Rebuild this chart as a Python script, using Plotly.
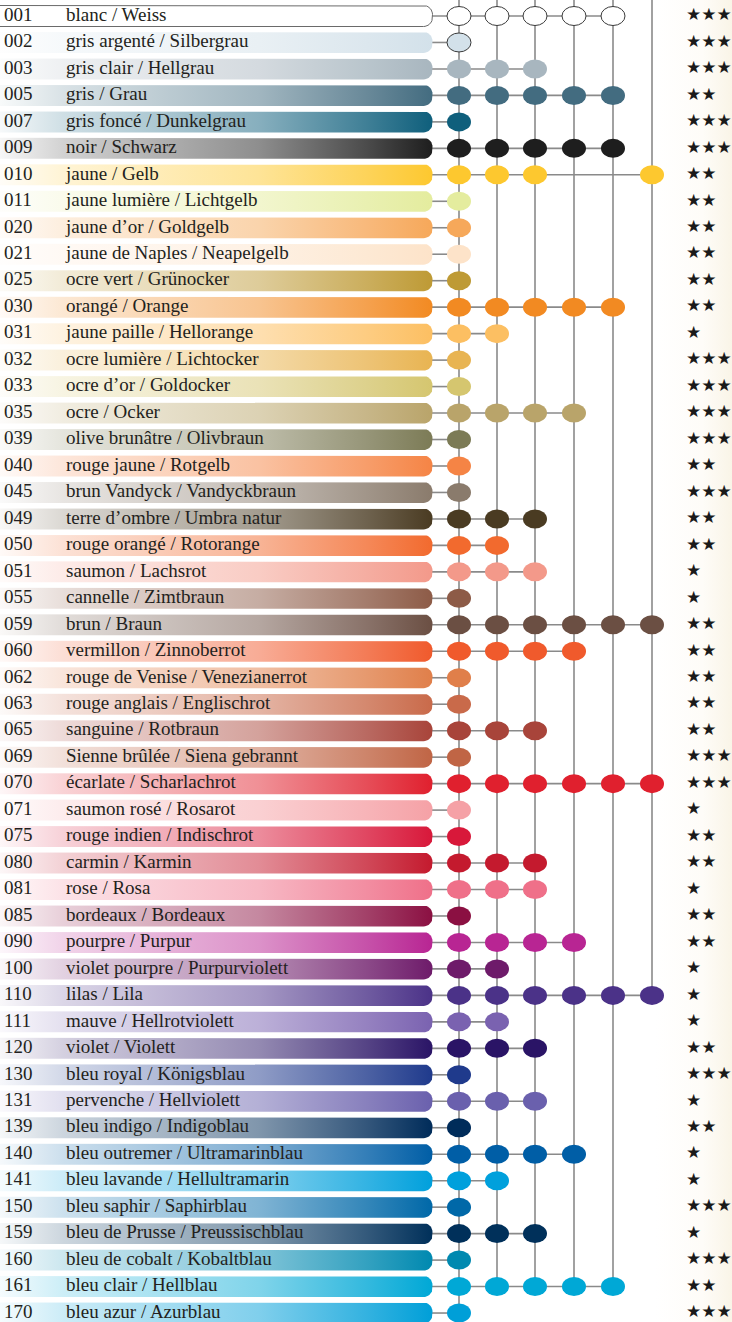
import numpy as np
import plotly.graph_objects as go

# ---------------- data ----------------
codes = ["001", "002", "003", "005", "007", "009", "010", "011", "020", "021",
         "025", "030", "031", "032", "033", "035", "039", "040", "045", "049",
         "050", "051", "055", "059", "060", "062", "063", "065", "069", "070",
         "071", "075", "080", "081", "085", "090", "100", "110", "111", "120",
         "130", "131", "139", "140", "141", "150", "159", "160", "161", "170"]

names = ["blanc / Weiss", "gris argenté / Silbergrau", "gris clair / Hellgrau",
         "gris / Grau", "gris foncé / Dunkelgrau", "noir / Schwarz", "jaune / Gelb",
         "jaune lumière / Lichtgelb", "jaune d’or / Goldgelb",
         "jaune de Naples / Neapelgelb", "ocre vert / Grünocker", "orangé / Orange",
         "jaune paille / Hellorange", "ocre lumière / Lichtocker",
         "ocre d’or / Goldocker", "ocre / Ocker", "olive brunâtre / Olivbraun",
         "rouge jaune / Rotgelb", "brun Vandyck / Vandyckbraun",
         "terre d’ombre / Umbra natur", "rouge orangé / Rotorange",
         "saumon / Lachsrot", "cannelle / Zimtbraun", "brun / Braun",
         "vermillon / Zinnoberrot", "rouge de Venise / Venezianerrot",
         "rouge anglais / Englischrot", "sanguine / Rotbraun",
         "Sienne brûlée / Siena gebrannt", "écarlate / Scharlachrot",
         "saumon rosé / Rosarot", "rouge indien / Indischrot", "carmin / Karmin",
         "rose / Rosa", "bordeaux / Bordeaux", "pourpre / Purpur",
         "violet pourpre / Purpurviolett", "lilas / Lila", "mauve / Hellrotviolett",
         "violet / Violett", "bleu royal / Königsblau", "pervenche / Hellviolett",
         "bleu indigo / Indigoblau", "bleu outremer / Ultramarinblau",
         "bleu lavande / Hellultramarin", "bleu saphir / Saphirblau",
         "bleu de Prusse / Preussischblau", "bleu de cobalt / Kobaltblau",
         "bleu clair / Hellblau", "bleu azur / Azurblau"]

colors = ["#ffffff", "#d3e1ea", "#a8b6bf", "#436c80", "#0f5f7c", "#1e1e1e",
          "#fdc82f", "#e4ec9e", "#f6a85a", "#fde3c9", "#be9a35", "#f28a22",
          "#fcbf62", "#e8b452", "#d5c66f", "#b9a46a", "#7c7b56", "#f58445",
          "#8a7b6c", "#4a3b22", "#f26a2e", "#f3998a", "#8d5b47", "#6b4f43",
          "#f05a2c", "#e07f4a", "#c96a4a", "#a8443a", "#c06545", "#e0202e",
          "#f5a1a6", "#d8183a", "#c41a2e", "#ef7089", "#8b1042", "#b82593",
          "#6e1b6a", "#4b3288", "#7a62b0", "#2a1466", "#1f3a8c", "#6a60ad",
          "#002c5a", "#005ea6", "#00a0dc", "#0068a8", "#00305a", "#0089b0",
          "#00a8d6", "#009fd8"]

stars = [3, 3, 3, 2, 3, 3, 2, 2, 2, 2,
         2, 2, 1, 3, 3, 3, 3, 2, 3, 2,
         2, 1, 1, 2, 2, 2, 2, 2, 3, 3,
         1, 2, 2, 1, 2, 2, 1, 1, 1, 2,
         3, 1, 2, 1, 1, 3, 1, 3, 2, 3]

# assortment columns (1..6) in which each colour appears
sets = [[1, 2, 3, 4, 5], [1], [1, 2, 3], [1, 2, 3, 4, 5], [1], [1, 2, 3, 4, 5],
        [1, 2, 3, 6], [1], [1], [1], [1], [1, 2, 3, 4, 5], [1, 2], [1], [1],
        [1, 2, 3, 4], [1], [1], [1], [1, 2, 3], [1, 2], [1, 2, 3], [1],
        [1, 2, 3, 4, 5, 6], [1, 2, 3, 4], [1], [1], [1, 2, 3], [1],
        [1, 2, 3, 4, 5, 6], [1], [1], [1, 2, 3], [1, 2, 3], [1], [1, 2, 3, 4],
        [1, 2], [1, 2, 3, 4, 5, 6], [1, 2], [1, 2, 3], [1], [1, 2, 3], [1],
        [1, 2, 3, 4], [1, 2], [1], [1, 2, 3], [1], [1, 2, 3, 4, 5], [1]]

outlined = ["001", "002"]

# ---------------- layout constants (pixels) ----------------
W, H = 732, 1322
PITCH = 26.47
TOP = 16.0
BAR_X0, BAR_X1 = -2, 432.5
BAR_H = 21.0
RAD = 9.0
COL_X = {1: 459, 2: 497, 3: 535, 4: 574, 5: 613, 6: 652}
DOT_W, DOT_H = 24.0, 19.0
LINE_C = "#8a8a8a"
TEXT_C = "#231f20"
SERIF = "Liberation Serif"

n = len(codes)
rows = np.arange(n)


def ru(px):
    """pixel length -> row units"""
    return px / PITCH


def mix(hexc, f):
    hexc = hexc.lstrip("#")
    r, g, b = (int(hexc[i:i + 2], 16) for i in (0, 2, 4))
    r = round(255 + (r - 255) * f)
    g = round(255 + (g - 255) * f)
    b = round(255 + (b - 255) * f)
    return f"rgb({r},{g},{b})"


def rounded_bar(i):
    hh = ru(BAR_H / 2)
    ry = ru(RAD)
    xs, ys = [BAR_X0], [i - hh]
    cx = BAR_X1 - RAD
    t = np.linspace(np.pi / 2, 0, 10)
    cy = i - hh + ry
    xs += list(cx + RAD * np.cos(t)); ys += list(cy - ry * np.sin(t))
    t = np.linspace(0, -np.pi / 2, 10)
    cy = i + hh - ry
    xs += list(cx + RAD * np.cos(t)); ys += list(cy - ry * np.sin(t))
    xs += [BAR_X0, BAR_X0]; ys += [i + hh, i - hh]
    return xs, ys


fig = go.Figure()

y_top = -TOP / PITCH
y_bot = (H - TOP) / PITCH

# cream backdrop on the right
fig.add_trace(go.Scatter(
    x=[655, W + 2, W + 2, 655, 655], y=[y_top, y_top, y_bot, y_bot, y_top],
    mode="lines", line=dict(width=0), fill="toself", hoverinfo="skip",
    fillgradient=dict(type="horizontal",
                      colorscale=[[0, "#ffffff"], [0.6, "#fefcf8"], [1, "#f9f4e6"]])))

# vertical column lines
vx, vy = [], []
for c, x in COL_X.items():
    members = [i for i in rows if c in sets[i]]
    vx += [x, x, None]
    vy += [y_top, max(members), None]
fig.add_trace(go.Scatter(x=vx, y=vy, mode="lines", hoverinfo="skip",
                         line=dict(color=LINE_C, width=1.6)))

# horizontal connectors
hx, hy = [], []
for i in rows:
    hx += [BAR_X1 - 2, COL_X[max(sets[i])], None]
    hy += [i, i, None]
fig.add_trace(go.Scatter(x=hx, y=hy, mode="lines", hoverinfo="skip",
                         line=dict(color=LINE_C, width=1.6)))

# gradient bars
for i in rows:
    xs, ys = rounded_bar(i)
    col = colors[i]
    if codes[i] in outlined and col == "#ffffff":
        fig.add_trace(go.Scatter(x=xs, y=ys, mode="lines", fill="toself",
                                 fillcolor="#ffffff", hoverinfo="skip",
                                 line=dict(color="#6a6a6a", width=1)))
    else:
        cs = [[0, mix(col, 0.03)], [0.15, mix(col, 0.2)], [0.6, mix(col, 0.5)],
              [0.85, mix(col, 0.8)], [1, mix(col, 1.0)]]
        fig.add_trace(go.Scatter(x=xs, y=ys, mode="lines", fill="toself",
                                 line=dict(width=0), hoverinfo="skip",
                                 fillgradient=dict(type="horizontal", colorscale=cs)))

# texts
fig.add_trace(go.Scatter(x=[4] * n, y=rows, text=codes, mode="text",
                         textposition="middle right", hoverinfo="skip",
                         textfont=dict(family=SERIF, size=19, color=TEXT_C)))
fig.add_trace(go.Scatter(x=[66] * n, y=rows, text=names, mode="text",
                         textposition="middle right", hoverinfo="skip",
                         textfont=dict(family=SERIF, size=19, color=TEXT_C)))
fig.add_trace(go.Scatter(x=[686] * n, y=rows, text=["★" * s for s in stars],
                         mode="text", textposition="middle right", hoverinfo="skip",
                         textfont=dict(family="DejaVu Sans", size=17, color="#1a1a1a")))

# dots (ellipses)
shapes = []
for i in rows:
    for c in sets[i]:
        x = COL_X[c]
        line = dict(color="#3a3a3a", width=1) if codes[i] in outlined else dict(width=0)
        shapes.append(dict(type="circle", xref="x", yref="y",
                           x0=x - DOT_W / 2, x1=x + DOT_W / 2,
                           y0=i - ru(DOT_H / 2), y1=i + ru(DOT_H / 2),
                           fillcolor=colors[i], line=line, layer="above"))

fig.update_layout(
    width=W, height=H, margin=dict(l=0, r=0, t=0, b=0),
    paper_bgcolor="#ffffff", plot_bgcolor="#ffffff", showlegend=False,
    shapes=shapes,
    xaxis=dict(range=[0, W], visible=False, fixedrange=True),
    yaxis=dict(range=[y_bot, y_top], visible=False, fixedrange=True),
)

fig.write_html("out.html", config={"displayModeBar": False},
               post_script="document.body.style.margin='0px';"
                           "document.body.style.overflow='hidden';")
